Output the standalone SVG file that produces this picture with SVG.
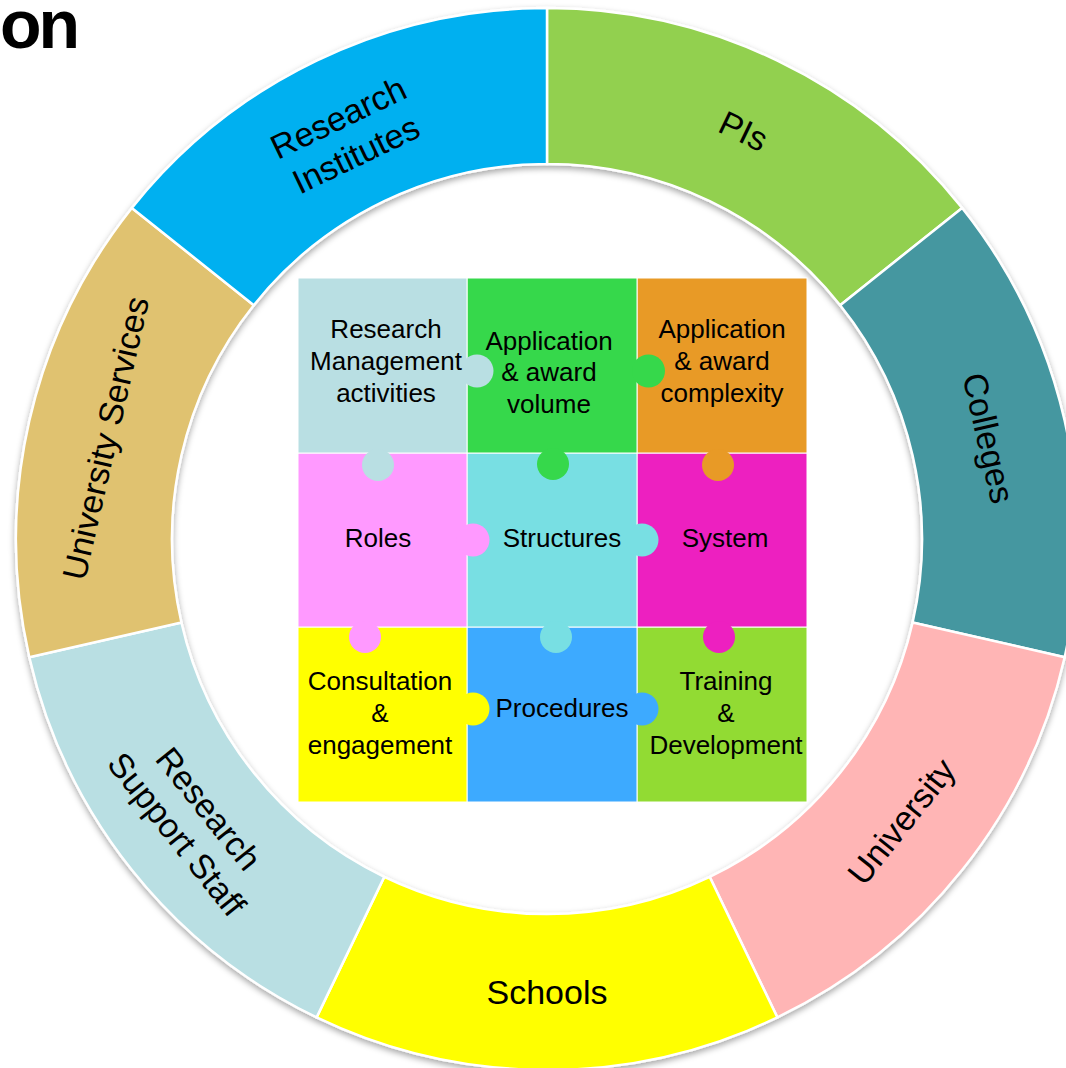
<svg xmlns="http://www.w3.org/2000/svg" width="1066" height="1068" viewBox="0 0 1066 1068">
  <defs>
    <filter id="shadow" x="-10%" y="-10%" width="120%" height="120%">
      <feDropShadow dx="0" dy="3" stdDeviation="3" flood-color="#000" flood-opacity="0.35"/>
    </filter>
    <style>
      .seg { stroke: #ffffff; stroke-width: 2.5; }
      .ringlbl { font-family: "Liberation Sans", Arial, sans-serif; font-size: 34px; fill: #000; text-anchor: middle; }
      .cell { stroke: #ffffff; stroke-width: 1; }
      .lbl { font-family: "Liberation Sans", Arial, sans-serif; font-size: 26px; fill: #000; text-anchor: middle; }
      .title { font-family: "Liberation Sans", Arial, sans-serif; font-size: 68px; font-weight: bold; fill: #000; letter-spacing: -3px; }
    </style>
  </defs>
  <rect width="1066" height="1068" fill="#ffffff"/>

  <text class="title" x="0" y="48">on</text>

  <g id="ring" filter="url(#shadow)">
    <g id="seg-pis">
      <path class="seg" fill="#92D050" d="M547,8 A531,531 0 0 1 962.15,207.93 L840.19,305.19 A375,375 0 0 0 547,164 Z"/>
    </g>
    <g id="seg-colleges">
      <path class="seg" fill="#4597A0" d="M962.15,207.93 A531,531 0 0 1 1064.69,657.16 L912.60,622.45 A375,375 0 0 0 840.19,305.19 Z"/>
    </g>
    <g id="seg-university">
      <path class="seg" fill="#FFB5B5" d="M1064.69,657.16 A531,531 0 0 1 777.39,1017.41 L709.71,876.86 A375,375 0 0 0 912.60,622.45 Z"/>
    </g>
    <g id="seg-schools">
      <path class="seg" fill="#FFFF00" d="M777.39,1017.41 A531,531 0 0 1 316.61,1017.41 L384.29,876.86 A375,375 0 0 0 709.71,876.86 Z"/>
    </g>
    <g id="seg-research-support-staff">
      <path class="seg" fill="#B9DFE3" d="M316.61,1017.41 A531,531 0 0 1 29.31,657.16 L181.40,622.45 A375,375 0 0 0 384.29,876.86 Z"/>
    </g>
    <g id="seg-university-services">
      <path class="seg" fill="#E0C270" d="M29.31,657.16 A531,531 0 0 1 131.85,207.93 L253.81,305.19 A375,375 0 0 0 181.40,622.45 Z"/>
    </g>
    <g id="seg-research-institutes">
      <path class="seg" fill="#00B0F0" d="M131.85,207.93 A531,531 0 0 1 547,8 L547,164 A375,375 0 0 0 253.81,305.19 Z"/>
    </g>
  </g>

  <g id="ring-labels">
    <text class="ringlbl" transform="translate(743.55,130.86) rotate(25.714)" y="12">PIs</text>
    <text class="ringlbl" transform="translate(988.64,438.2) rotate(77.143)" y="12">Colleges</text>
    <text class="ringlbl" transform="translate(901.17,821.44) rotate(-51.429)" y="12">University</text>
    <text class="ringlbl" transform="translate(547,992)" y="12">Schools</text>
    <text class="ringlbl" transform="translate(192.83,821.44) rotate(51.429)"><tspan x="0" y="-8.4">Research</tspan><tspan x="0" y="32.4">Support Staff</tspan></text>
    <text class="ringlbl" transform="translate(105.36,438.2) rotate(-77.143)" y="12">University Services</text>
    <text class="ringlbl" transform="translate(347,136) rotate(-25.714)"><tspan x="0" y="-8.4">Research</tspan><tspan x="0" y="32.4">Institutes</tspan></text>
  </g>

  <g id="puzzle">
    <g id="training-development">
      <rect class="cell" x="637" y="627" width="170" height="175" fill="#92DB33"/>
      <text class="lbl"><tspan x="726" y="690">Training</tspan><tspan x="726" y="722">&amp;</tspan><tspan x="726" y="754">Development</tspan></text>
    </g>
    <g id="procedures">
      <rect class="cell" x="467" y="627" width="170" height="175" fill="#3DAAFF"/>
      <circle cx="642" cy="709" r="16.5" fill="#3DAAFF"/>
      <text class="lbl" x="562" y="717">Procedures</text>
    </g>
    <g id="consultation-engagement">
      <rect class="cell" x="298" y="627" width="169" height="175" fill="#FFFF00"/>
      <circle cx="473" cy="709" r="16.5" fill="#FFFF00"/>
      <text class="lbl"><tspan x="380" y="690">Consultation</tspan><tspan x="380" y="722">&amp;</tspan><tspan x="380" y="754">engagement</tspan></text>
    </g>
    <g id="system">
      <rect class="cell" x="637" y="453" width="170" height="174" fill="#ED20C0"/>
      <circle cx="719" cy="637" r="16" fill="#ED20C0"/>
      <text class="lbl" x="725" y="547">System</text>
    </g>
    <g id="structures">
      <rect class="cell" x="467" y="453" width="170" height="174" fill="#78DFE3"/>
      <circle cx="642" cy="540" r="16.5" fill="#78DFE3"/>
      <circle cx="556" cy="637" r="16" fill="#78DFE3"/>
      <text class="lbl" x="562" y="547">Structures</text>
    </g>
    <g id="roles">
      <rect class="cell" x="298" y="453" width="169" height="174" fill="#FF99FF"/>
      <circle cx="473" cy="540" r="16.5" fill="#FF99FF"/>
      <circle cx="365" cy="637" r="16" fill="#FF99FF"/>
      <text class="lbl" x="378" y="547">Roles</text>
    </g>
    <g id="application-award-complexity">
      <rect class="cell" x="637" y="278" width="170" height="175" fill="#E89A26"/>
      <circle cx="718" cy="465" r="16" fill="#E89A26"/>
      <text class="lbl"><tspan x="722" y="338">Application</tspan><tspan x="722" y="370">&amp; award</tspan><tspan x="722" y="402">complexity</tspan></text>
    </g>
    <g id="application-award-volume">
      <rect class="cell" x="467" y="278" width="170" height="175" fill="#36D84B"/>
      <circle cx="648.5" cy="371" r="16.5" fill="#36D84B"/>
      <circle cx="553" cy="464" r="16" fill="#36D84B"/>
      <text class="lbl"><tspan x="549" y="350">Application</tspan><tspan x="549" y="381">&amp; award</tspan><tspan x="549" y="413">volume</tspan></text>
    </g>
    <g id="research-management-activities">
      <rect class="cell" x="298" y="278" width="169" height="175" fill="#B9DFE3"/>
      <circle cx="477" cy="371" r="16.5" fill="#B9DFE3"/>
      <circle cx="378" cy="465" r="16" fill="#B9DFE3"/>
      <text class="lbl"><tspan x="386" y="338">Research</tspan><tspan x="386" y="370">Management</tspan><tspan x="386" y="402">activities</tspan></text>
    </g>
  </g>

  <g id="connectors"/>
</svg>
